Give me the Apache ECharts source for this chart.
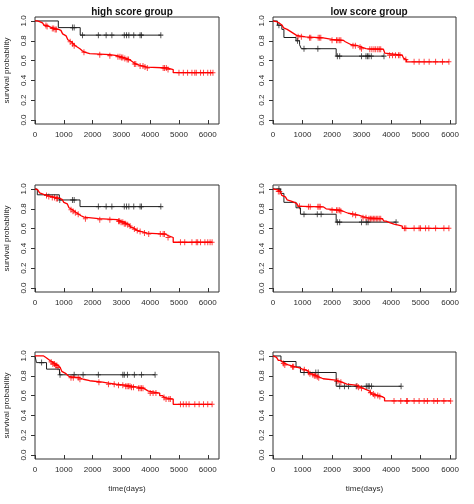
<!DOCTYPE html>
<html><head><meta charset="utf-8">
<script src="https://cdn.jsdelivr.net/npm/echarts@6/dist/echarts.min.js"></script>
<style>html,body{margin:0;padding:0;background:#fff}#c{width:474px;height:504px}</style>
</head><body><div id="c"></div>
<script>
// ---- tick labels / text ----
const xTicks = [0, 1000, 2000, 3000, 4000, 5000, 6000];
const yTicks = [0, 0.2, 0.4, 0.6, 0.8, 1.0];
const panelTitles = ['high score group', 'low score group'];
const xAxisName = 'time(days)';
const yAxisName = 'survival probability';

// ---- panel 1 (top-left) ----
const p1BlackT = [810, 1570];
const p1BlackS = [0.933, 0.857];
const p1BlackC = [1300, 1360, 1650, 2200, 2470, 2670, 3100, 3180, 3260, 3430, 3650, 3700, 4370];
const p1RedT = [80, 180, 260, 320, 400, 480, 560, 680, 820, 900, 960, 1020, 1080, 1140, 1200, 1260, 1330, 1400, 1480, 1560, 1640, 1720, 1900, 2600, 2850, 2960, 3100, 3200, 3280, 3350, 3420, 3520, 3620, 3760, 3880, 4620, 4800];
const p1RedS = [0.99, 0.98, 0.97, 0.955, 0.945, 0.935, 0.925, 0.915, 0.905, 0.89, 0.87, 0.85, 0.83, 0.81, 0.79, 0.77, 0.75, 0.735, 0.72, 0.70, 0.685, 0.67, 0.66, 0.65, 0.64, 0.63, 0.62, 0.61, 0.595, 0.58, 0.565, 0.555, 0.545, 0.535, 0.525, 0.51, 0.478];
const p1RedC = [380, 420, 600, 650, 700, 740, 1220, 1300, 1360, 1700, 2250, 2600, 2880, 2950, 3000, 3050, 3120, 3200, 3250, 3450, 3500, 3650, 3750, 3820, 3900, 4450, 4500, 4560, 4620, 5000, 5150, 5300, 5450, 5550, 5600, 5750, 5850, 6000, 6100, 6180];

// ---- panel 2 (top-right) ----
const p2BlackT = [150, 300, 370, 780, 900, 960, 2140];
const p2BlackS = [0.957, 0.915, 0.833, 0.80, 0.76, 0.72, 0.645];
const p2BlackC = [200, 830, 1050, 1520, 2180, 2260, 3000, 3150, 3200, 3250, 3330, 3760];
const p2RedT = [60, 150, 230, 300, 360, 420, 480, 560, 640, 720, 800, 1100, 1700, 2000, 2380, 2450, 2550, 2650, 2880, 3000, 3150, 3740, 3790, 3850, 4380, 4420, 4470, 4520];
const p2RedS = [0.99, 0.975, 0.96, 0.945, 0.93, 0.915, 0.90, 0.885, 0.87, 0.855, 0.84, 0.83, 0.815, 0.805, 0.79, 0.775, 0.76, 0.75, 0.735, 0.72, 0.715, 0.695, 0.675, 0.655, 0.645, 0.625, 0.61, 0.588];
const p2RedC = [850, 960, 1240, 1280, 1530, 1580, 1620, 2000, 2150, 2200, 2260, 2300, 2710, 2790, 2950, 3000, 3280, 3350, 3420, 3480, 3550, 3600, 3650, 3950, 4050, 4150, 4250, 4300, 4500, 4780, 4950, 5120, 5290, 5510, 5740, 5960];

// ---- panel 3 (middle-left) ----
const p3BlackT = [80, 845, 1563];
const p3BlackS = [0.941, 0.889, 0.822];
const p3BlackC = [860, 1300, 1360, 2200, 2470, 2670, 3100, 3180, 3260, 3430, 3650, 3700, 4370];
const p3RedT = [40, 100, 160, 220, 300, 420, 560, 700, 860, 940, 1000, 1060, 1120, 1180, 1240, 1300, 1370, 1440, 1520, 1600, 1700, 2200, 2850, 2980, 3100, 3200, 3270, 3330, 3400, 3480, 3560, 3700, 3900, 4520, 4620, 4800];
const p3RedS = [0.99, 0.975, 0.96, 0.945, 0.935, 0.925, 0.915, 0.905, 0.895, 0.88, 0.865, 0.85, 0.83, 0.81, 0.79, 0.775, 0.76, 0.745, 0.73, 0.715, 0.70, 0.69, 0.675, 0.665, 0.65, 0.64, 0.625, 0.61, 0.595, 0.58, 0.57, 0.555, 0.545, 0.53, 0.51, 0.462];
const p3RedC = [400, 480, 600, 680, 740, 780, 1250, 1320, 1400, 1500, 1750, 2250, 2600, 2900, 2940, 2990, 3050, 3100, 3150, 3220, 3300, 3450, 3550, 3650, 3800, 3950, 4350, 4450, 4500, 4620, 5050, 5200, 5450, 5600, 5650, 5750, 5900, 6000, 6080, 6150];

// ---- panel 4 (middle-right) ----
const p4BlackT = [260, 370, 780, 930, 2140];
const p4BlackS = [0.955, 0.865, 0.81, 0.745, 0.665];
const p4BlackC = [200, 1050, 1500, 1630, 2180, 2260, 3000, 3160, 3220, 4170];
const p4RedT = [50, 150, 250, 300, 360, 420, 480, 540, 640, 720, 800, 860, 1000, 1700, 1800, 2300, 2380, 2460, 2550, 2750, 2900, 3050, 3200, 3700, 3760, 3830, 3950, 4100, 4250, 4380];
const p4RedS = [0.99, 0.975, 0.955, 0.935, 0.92, 0.905, 0.89, 0.875, 0.865, 0.855, 0.84, 0.825, 0.82, 0.80, 0.785, 0.775, 0.765, 0.755, 0.745, 0.735, 0.72, 0.71, 0.70, 0.69, 0.675, 0.66, 0.645, 0.635, 0.625, 0.603];
const p4RedC = [180, 230, 900, 1200, 1260, 1520, 1560, 1600, 2000, 2150, 2200, 2260, 2300, 2700, 2800, 3050, 3150, 3250, 3300, 3350, 3400, 3450, 3500, 3550, 3600, 3650, 4450, 4500, 4780, 4950, 5000, 5170, 5280, 5510, 5790, 5960];

// ---- panel 5 (bottom-left) ----
const p5BlackT = [50, 400, 850];
const p5BlackS = [0.933, 0.867, 0.81];
const p5BlackC = [230, 870, 1360, 1670, 2200, 3050, 3100, 3210, 3450, 3700, 4170];
const p5RedT = [300, 380, 450, 520, 600, 700, 800, 870, 930, 990, 1060, 1130, 1200, 1550, 1680, 1900, 2350, 2550, 2800, 3150, 3350, 3560, 3760, 3850, 3940, 4330, 4420, 4500, 4800];
const p5RedS = [0.985, 0.97, 0.955, 0.94, 0.92, 0.905, 0.885, 0.865, 0.845, 0.825, 0.805, 0.79, 0.78, 0.765, 0.75, 0.735, 0.725, 0.715, 0.705, 0.695, 0.685, 0.675, 0.66, 0.645, 0.625, 0.60, 0.58, 0.565, 0.512];
const p5RedC = [560, 620, 680, 720, 760, 800, 1250, 1330, 1500, 1560, 2220, 2550, 2750, 2900, 3050, 3150, 3200, 3250, 3300, 3350, 3420, 3600, 3650, 3700, 3750, 4000, 4100, 4200, 4480, 4550, 4650, 4700, 5050, 5150, 5250, 5350, 5550, 5700, 5850, 6000, 6150];

// ---- panel 6 (bottom-right) ----
const p6BlackT = [270, 780, 930, 2140];
const p6BlackS = [0.944, 0.889, 0.833, 0.694];
const p6BlackC = [1050, 1450, 1530, 2260, 2420, 2560, 2820, 3160, 3220, 3260, 3340, 4340];
const p6RedT = [60, 120, 180, 260, 330, 400, 520, 640, 760, 900, 980, 1100, 1180, 1240, 1320, 1400, 1460, 1540, 1620, 1700, 2130, 2240, 2330, 2420, 2500, 2800, 2900, 2960, 3040, 3120, 3200, 3280, 3340, 3420, 3600, 3700, 3780];
const p6RedS = [0.985, 0.97, 0.955, 0.94, 0.925, 0.91, 0.90, 0.89, 0.88, 0.87, 0.86, 0.85, 0.835, 0.82, 0.81, 0.80, 0.79, 0.78, 0.77, 0.757, 0.745, 0.735, 0.725, 0.715, 0.705, 0.695, 0.685, 0.675, 0.665, 0.655, 0.645, 0.63, 0.615, 0.60, 0.59, 0.575, 0.546];
const p6RedC = [350, 400, 660, 700, 1060, 1200, 1250, 1350, 1400, 1450, 1500, 1550, 2150, 2200, 2300, 2850, 2900, 3000, 3300, 3400, 3450, 3550, 3620, 4100, 4330, 4530, 4550, 4780, 4950, 5120, 5230, 5450, 5570, 5790, 6020];

const panels = [
  [p1BlackT, p1BlackS, p1BlackC, p1RedT, p1RedS, p1RedC],
  [p2BlackT, p2BlackS, p2BlackC, p2RedT, p2RedS, p2RedC],
  [p3BlackT, p3BlackS, p3BlackC, p3RedT, p3RedS, p3RedC],
  [p4BlackT, p4BlackS, p4BlackC, p4RedT, p4RedS, p4RedC],
  [p5BlackT, p5BlackS, p5BlackC, p5RedT, p5RedS, p5RedC],
  [p6BlackT, p6BlackS, p6BlackC, p6RedT, p6RedS, p6RedC]
];

function survAt(T, S, t) {
  let s = 1;
  for (let i = 0; i < T.length; i++) if (T[i] <= t) s = S[i];
  return s;
}
function kmLine(T, S, C) {
  const d = [[0, 1]];
  for (let i = 0; i < T.length; i++) d.push([T[i], S[i]]);
  const last = Math.max(T[T.length - 1], C.length ? C[C.length - 1] : 0);
  d.push([last, S[S.length - 1]]);
  return d;
}
function censor(T, S, C) { return C.map(t => [t, survAt(T, S, t)]); }

const FONT = 'Liberation Sans, Arial, Helvetica, sans-serif';
const TXT = '#2a2a2a';
const gridPos = [
  {left: 35, top: 17, width: 184, height: 107},
  {left: 273, top: 17, width: 183, height: 107},
  {left: 35, top: 185, width: 184, height: 107},
  {left: 273, top: 185, width: 183, height: 107},
  {left: 35, top: 352, width: 184, height: 107},
  {left: 273, top: 352, width: 183, height: 107}
];
const plusSym = 'path://M5,0L5,10M1,5L9,5';

const grid = [], xAxis = [], yAxis = [], series = [];
gridPos.forEach((g, i) => {
  const leftCol = i % 2 === 0;
  const bottomRow = i >= 4;
  grid.push(Object.assign({show: true, borderColor: '#333', borderWidth: 1, backgroundColor: 'transparent', containLabel: false}, g));
  xAxis.push({
    type: 'value', gridIndex: i, min: 0, max: leftCol ? 6390 : 6200,
    axisLine: {show: false},
    axisTick: {show: true, customValues: xTicks, length: 4, lineStyle: {color: '#333'}},
    axisLabel: {customValues: xTicks, fontSize: 8, color: TXT, margin: 7, fontFamily: FONT,
      formatter: v => String(v)},
    splitLine: {show: false},
    name: bottomRow ? xAxisName : '', nameLocation: 'middle', nameGap: 26,
    nameTextStyle: {fontSize: 8, color: TXT, fontFamily: FONT}
  });
  yAxis.push({
    type: 'value', gridIndex: i, min: -0.04, max: 1.04,
    axisLine: {show: false},
    axisTick: {show: true, customValues: yTicks, length: 4, lineStyle: {color: '#333'}},
    axisLabel: {customValues: yTicks, fontSize: 8, color: TXT, margin: 7, rotate: 90, fontFamily: FONT,
      formatter: v => v.toFixed(1)},
    splitLine: {show: false},
    name: leftCol ? yAxisName : '', nameLocation: 'middle', nameGap: 24, nameRotate: 90,
    nameTextStyle: {fontSize: 8, color: TXT, fontFamily: FONT}
  });
  const [bT, bS, bC, rT, rS, rC] = panels[i];
  [[bT, bS, bC, '#1e1e1e', 1], [rT, rS, rC, '#ff0000', 1.3]].forEach(([T, S, C, col, w]) => {
    series.push({
      type: 'line', xAxisIndex: i, yAxisIndex: i, step: 'end', showSymbol: false, silent: true,
      data: kmLine(T, S, C), lineStyle: {color: col, width: w}
    });
    series.push({
      type: 'scatter', xAxisIndex: i, yAxisIndex: i, silent: true,
      symbol: plusSym, symbolSize: [5, 6],
      data: censor(T, S, C),
      itemStyle: {color: col, borderColor: col, borderWidth: 1}
    });
  });
});

const chart = echarts.init(document.getElementById('c'), null, {renderer: 'canvas'});
chart.setOption({
  animation: false,
  backgroundColor: '#fff',
  title: [
    {text: panelTitles[0], left: 127, top: 2, textAlign: 'center',
      textStyle: {fontSize: 10, fontWeight: 'bold', color: '#111', fontFamily: FONT}},
    {text: panelTitles[1], left: 364, top: 2, textAlign: 'center',
      textStyle: {fontSize: 10, fontWeight: 'bold', color: '#111', fontFamily: FONT}}
  ],
  grid, xAxis, yAxis, series
});
</script></body></html>
